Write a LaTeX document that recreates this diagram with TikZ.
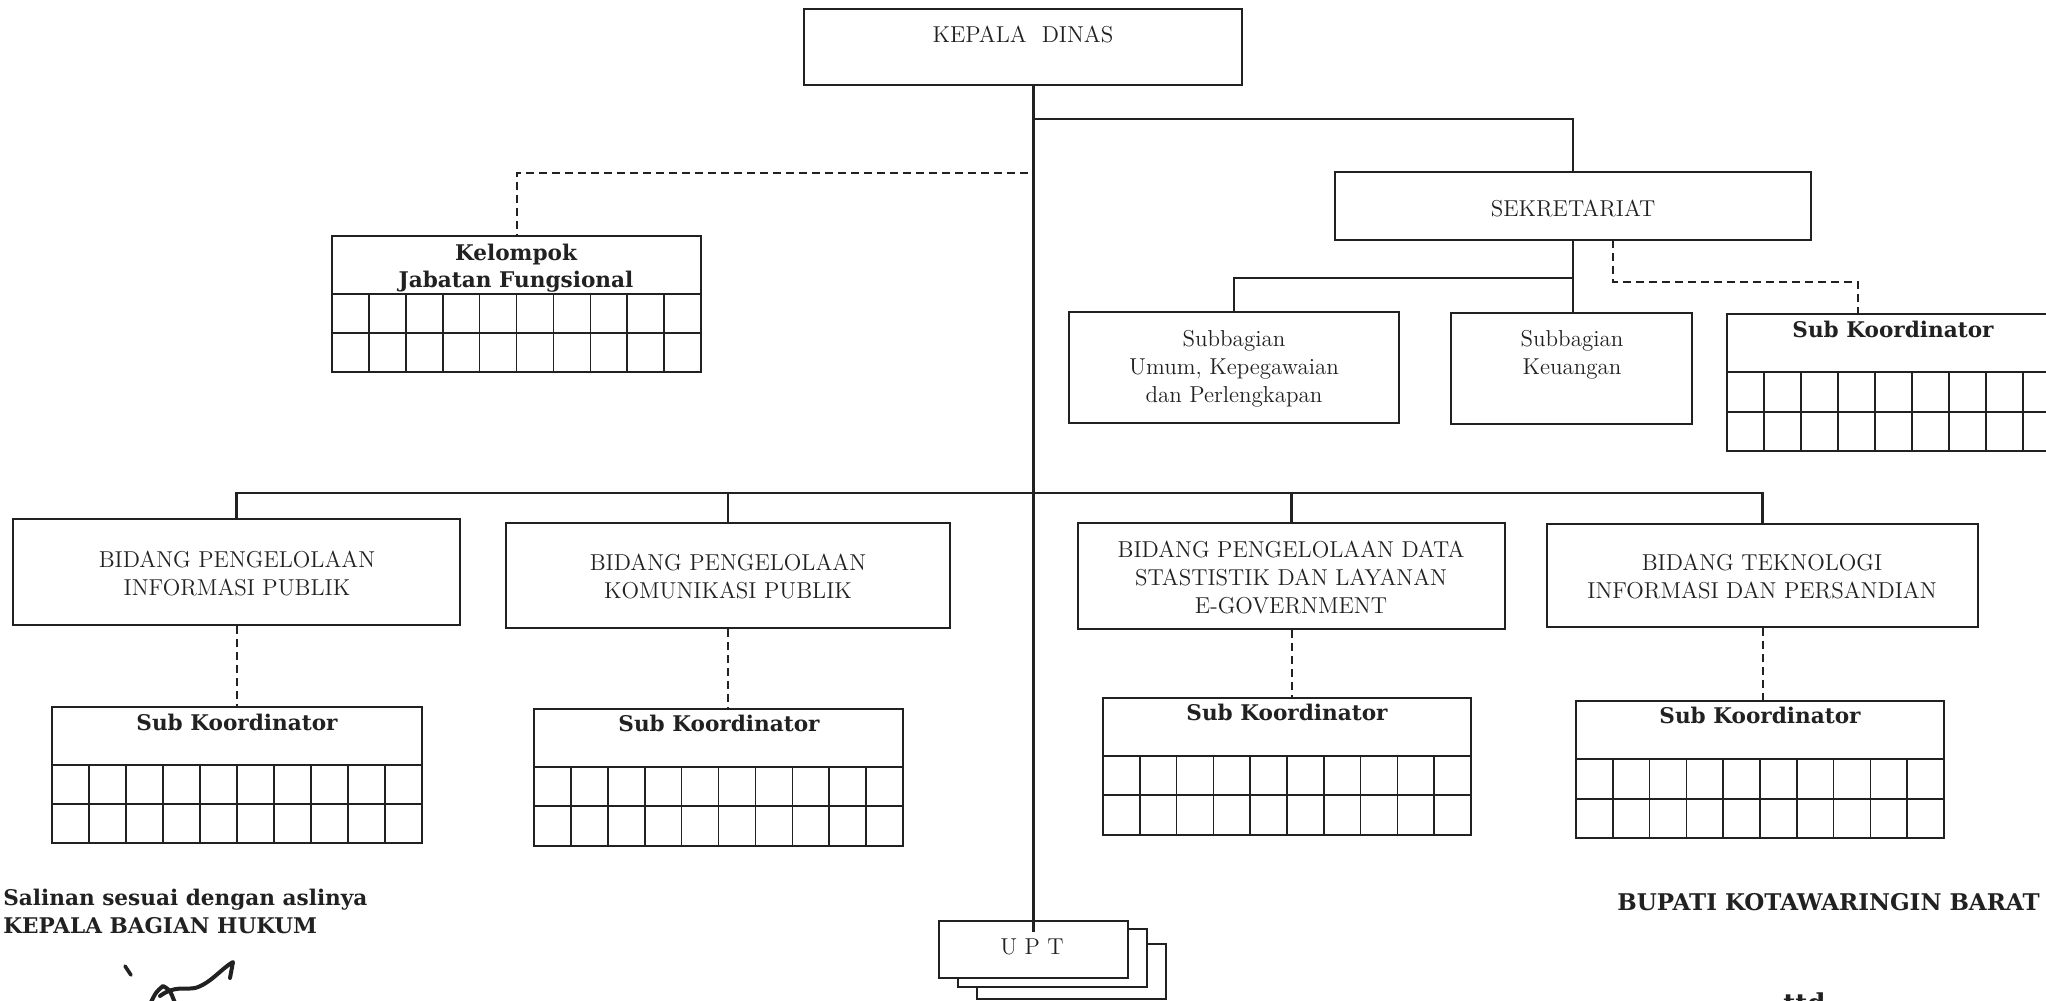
\documentclass[tikz,border=0pt]{standalone}
\usepackage{fontspec}
\newfontfamily\dvserif{DejaVu Serif}
\usetikzlibrary{fit,calc}
\definecolor{ink}{gray}{0.13}
\tikzset{
 box/.style={draw=ink, line width=1.2pt, inner sep=0pt, fill=white},
 conn/.style={draw=ink, line width=1.1pt},
 dashconn/.style={draw=ink, line width=1pt, dash pattern=on 4pt off 2.5pt},
 gridline/.style={draw=ink, line width=0.8pt},
 lbl/.style={inner sep=0pt, anchor=base, align=center, text=ink, font=\fontsize{11.5}{14}\selectfont},
 blbl/.style={inner sep=0pt, anchor=base, align=center, text=ink, font=\dvserif\bfseries\fontsize{10.8}{13.5}\selectfont},
}
\newcommand\gridbox[7]{%
 \node[box, fit={(#2,#4) (#3,#7)}] (#1) {};
 \draw[gridline] (#2,#5) -- (#3,#5) (#2,#6) -- (#3,#6);
 \foreach \k in {1,...,9}{\draw[gridline] ({#2+\k*(#3-#2)/10},#5) -- ({#2+\k*(#3-#2)/10},#7);}
}
\begin{document}
\begin{tikzpicture}[x=0.5pt, y=-0.5pt]
\useasboundingbox (0,0) rectangle (2046,1001);
% top
\node[box, fit={(804,9) (1242,85)}] (kd) {};
\node[lbl] (kdl) at (1023,42) {KEPALA\ \ DINAS};
\node[box, fit={(1335,172) (1811,240)}] (sek) {};
\node[lbl] (sekl) at (1573,216) {SEKRETARIAT};
\node[box, fit={(1069,312) (1399,423)}] (umum) {};
\node[lbl] (umuml) at (1234,402) {Subbagian\\Umum, Kepegawaian\\dan Perlengkapan};
\node[box, fit={(1451,313) (1692,424)}] (keu) {};
\node[lbl] (keul) at (1572,374) {Subbagian\\Keuangan};
\gridbox{kel}{332}{701}{236}{294}{333}{372}
\node[blbl] (kell) at (516,287) {Kelompok\\Jabatan Fungsional};
\gridbox{subr}{1727}{2097}{314}{372}{412}{451}
\node[blbl] (subrl) at (1893,337) {Sub Koordinator};
% bidang
\node[box, fit={(13,519) (460,625)}] (b1) {};
\node[lbl] (b1l) at (237,595) {BIDANG PENGELOLAAN\\INFORMASI PUBLIK};
\node[box, fit={(506,523) (950,628)}] (b2) {};
\node[lbl] (b2l) at (728,598) {BIDANG PENGELOLAAN\\KOMUNIKASI PUBLIK};
\node[box, fit={(1078,523) (1505,629)}] (b3) {};
\node[lbl] (b3l) at (1291,613) {BIDANG PENGELOLAAN DATA\\STASTISTIK DAN LAYANAN\\E-GOVERNMENT};
\node[box, fit={(1547,524) (1978,627)}] (b4) {};
\node[lbl] (b4l) at (1762,598) {BIDANG TEKNOLOGI\\INFORMASI DAN PERSANDIAN};
\gridbox{s1}{52}{422}{707}{765}{804}{843}
\node[blbl] (s1l) at (237,730) {Sub Koordinator};
\gridbox{s2}{534}{903}{709}{767}{806}{846}
\node[blbl] (s2l) at (719,731) {Sub Koordinator};
\gridbox{s3}{1103}{1471}{698}{756}{795}{835}
\node[blbl] (s3l) at (1287,720) {Sub Koordinator};
\gridbox{s4}{1576}{1944}{701}{759}{799}{838}
\node[blbl] (s4l) at (1760,723) {Sub Koordinator};
% UPT
\node[box, fit={(977,944) (1166,999)}] (upt3) {};
\node[box, fit={(958,929) (1147,987)}] (upt2) {};
\node[box, fit={(939,921) (1128,978)}] (upt) {};
\node[lbl] (uptl) at (1032,954) {U P T};
% connectors
\coordinate (j1) at (1034,119);
\coordinate (j2) at (1028,173);
\coordinate (j3) at (1573,278);
\coordinate (bus) at (1034,493);
\draw[conn] (kd.south -| upt.north) -- ($(upt.north)+(0,12)$);
\draw[conn] (j1) -| (sek.north);
\draw[dashconn] (j2) -| (kel.north);
\draw[conn] (sek.south) -- (sek.south |- keu.north);
\draw[conn] (j3) -| (umum.north);
\coordinate (d1) at (1613,240);
\coordinate (d2) at (1858,314);
\draw[dashconn] (d1) |- ($(d2)+(0,-32)$) -- (d2);
\draw[conn] (b1.north) -- (b1.north |- bus) -- (b4.north |- bus) -- (b4.north);
\draw[conn] (b2.north) -- (b2.north |- bus);
\draw[conn] (b3.north) -- (b3.north |- bus);
\draw[dashconn] (b1.south) -- (b1.south |- s1.north);
\draw[dashconn] (b2.south) -- (b2.south |- s2.north);
\draw[dashconn] (b3.south) -- (b3.south |- s3.north);
\draw[dashconn] (b4.south) -- (b4.south |- s4.north);
% footer
\node[inner sep=0pt, anchor=base west, align=left, text=ink, font=\dvserif\bfseries\fontsize{10.8}{14}\selectfont] (sal) at (3,933) {Salinan sesuai dengan aslinya\\KEPALA BAGIAN HUKUM};
\node[inner sep=0pt, anchor=base east, text=ink, font=\dvserif\bfseries\fontsize{11.5}{14}\selectfont] (bup) at (2040,910) {BUPATI KOTAWARINGIN BARAT};
\node[inner sep=0pt, anchor=base west, text=ink, font=\dvserif\bfseries\fontsize{13}{14}\selectfont] (ttd) at (1783,1012) {ttd};
% signature
\draw[ink, line width=1.8pt, line cap=round] (125,966) -- (131,975);
\draw[ink, line width=2pt, line cap=round, line join=round] (150,1004) .. controls (156,992) .. (163,986) .. controls (170,990) .. (175,1003);
\draw[ink, line width=2pt, line cap=round, line join=round] (160,996) .. controls (175,985) and (185,990) .. (195,988) .. controls (210,984) and (222,968) .. (233,962) -- (230,978);
\end{tikzpicture}
\end{document}
